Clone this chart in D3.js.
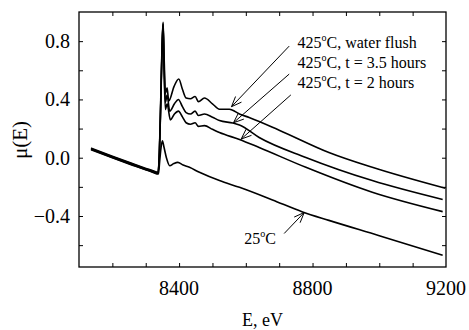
<!DOCTYPE html>
<html>
<head>
<meta charset="utf-8">
<script src="https://cdn.jsdelivr.net/npm/d3@7"></script>
<style>
  body { margin: 0; background: #fff; }
</style>
</head>
<body>
<svg id="chart"></svg>
<script>
// [E (eV), mu(E)]
const waterFlush = [
  [8136, 0.066], [8200, 0.010], [8260, -0.040], [8320, -0.088], [8337, -0.100],
  [8341, 0.05], [8345, 0.40], [8349, 0.78], [8352, 0.93], [8355, 0.70],
  [8359, 0.44], [8364, 0.48], [8369, 0.39], [8385, 0.49], [8399, 0.54],
  [8410, 0.47], [8421, 0.41], [8434, 0.405], [8448, 0.42], [8458, 0.385],
  [8476, 0.41], [8500, 0.37], [8521, 0.333], [8551, 0.333], [8581, 0.30],
  [8610, 0.276], [8700, 0.189], [8849, 0.036], [8979, -0.066], [9198, -0.21]
];
const hours35 = [
  [8136, 0.062], [8200, 0.006], [8260, -0.044], [8320, -0.092], [8337, -0.104],
  [8341, 0.04], [8345, 0.38], [8349, 0.76], [8352, 0.92], [8355, 0.64],
  [8359, 0.38], [8364, 0.43], [8372, 0.32], [8386, 0.37], [8398, 0.40],
  [8410, 0.35], [8421, 0.31], [8434, 0.30], [8448, 0.32], [8458, 0.29],
  [8476, 0.30], [8500, 0.278], [8521, 0.255], [8561, 0.238], [8581, 0.225],
  [8640, 0.139], [8780, 0.002], [8979, -0.157], [9190, -0.287]
];
const hours2 = [
  [8136, 0.058], [8200, 0.002], [8260, -0.048], [8320, -0.096], [8337, -0.108],
  [8341, 0.03], [8345, 0.36], [8349, 0.74], [8352, 0.91], [8355, 0.60],
  [8359, 0.33], [8364, 0.37], [8374, 0.26], [8386, 0.30], [8398, 0.32],
  [8410, 0.28], [8421, 0.24], [8434, 0.23], [8448, 0.24], [8458, 0.215],
  [8476, 0.22], [8500, 0.195], [8521, 0.173], [8581, 0.125], [8640, 0.07],
  [8780, -0.066], [8979, -0.237], [9190, -0.37]
];
const room25 = [
  [8136, 0.055], [8200, -0.001], [8260, -0.051], [8320, -0.099], [8338, -0.112],
  [8342, -0.02], [8346, 0.07], [8350, 0.116], [8355, 0.07], [8362, 0.0],
  [8372, -0.055], [8384, -0.04], [8396, -0.032], [8412, -0.05], [8431, -0.066],
  [8461, -0.10], [8521, -0.157], [8581, -0.203], [8680, -0.29], [8770, -0.372],
  [8849, -0.43], [9000, -0.535], [9190, -0.67]
];
const series = [waterFlush, hours35, hours2, room25];

const xTicks = [8400, 8800, 9200];
const yTicks = [-0.4, 0.0, 0.4, 0.8];

// annotations: label lines, arrow tail and tip in data units
const labels = [
  { text: "425", rest: ", water flush", E: 8755, mu: 0.755 },
  { text: "425", rest: ", t = 3.5 hours", E: 8755, mu: 0.617 },
  { text: "425", rest: ", t = 2 hours", E: 8755, mu: 0.48 },
  { text: "25", rest: "", E: 8595, mu: -0.59 }
];
const arrows = [
  { from: [8730, 0.766], to: [8557, 0.350] },
  { from: [8730, 0.574], to: [8563, 0.240] },
  { from: [8735, 0.431], to: [8586, 0.128] },
  { from: [8715, -0.520], to: [8775, -0.376] }
];

const serif = '"Liberation Serif", "Times New Roman", "DejaVu Serif", serif';
const width = 469, height = 330;
const margin = { top: 12, right: 23, bottom: 63, left: 79 };
const innerW = width - margin.left - margin.right;
const innerH = height - margin.top - margin.bottom;

const svg = d3.select("#chart").attr("width", width).attr("height", height);
const g = svg.append("g").attr("transform", `translate(${margin.left},${margin.top})`);

const x = d3.scaleLinear().domain([8100, 9200]).range([0, innerW]);
const y = d3.scaleLinear().domain([-0.75, 1.0]).range([innerH, 0]);

// inward ticks on all four sides
const minorX = d3.range(8200, 9200, 100);
const minorY = d3.range(-0.6, 1.0, 0.2);
const tick = 4;

g.append("g").attr("transform", `translate(0,${innerH})`)
  .call(d3.axisBottom(x).tickValues(minorX).tickSize(-tick).tickFormat(""));
g.append("g")
  .call(d3.axisTop(x).tickValues(minorX).tickSize(-tick).tickFormat(""));
g.append("g")
  .call(d3.axisLeft(y).tickValues(minorY).tickSize(-tick).tickFormat(""));
g.append("g").attr("transform", `translate(${innerW},0)`)
  .call(d3.axisRight(y).tickValues(minorY).tickSize(-tick).tickFormat(""));
g.selectAll(".domain").remove();
g.selectAll(".tick line").attr("stroke", "#000").attr("stroke-width", 1);

g.append("rect")
  .attr("width", innerW).attr("height", innerH)
  .attr("fill", "none").attr("stroke", "#000").attr("stroke-width", 1.3);

// tick labels
g.selectAll(".xlab").data(xTicks).join("text")
  .attr("x", d => x(d)).attr("y", innerH + 28)
  .attr("text-anchor", "middle")
  .attr("font-family", serif).attr("font-size", 20)
  .text(d => d);
g.selectAll(".ylab").data(yTicks).join("text")
  .attr("x", -9).attr("y", d => y(d) + 7)
  .attr("text-anchor", "end")
  .attr("font-family", serif).attr("font-size", 20)
  .text(d => d3.format(".1f")(d));

svg.append("text")
  .attr("x", margin.left + innerW / 2).attr("y", 326)
  .attr("text-anchor", "middle")
  .attr("font-family", serif).attr("font-size", 18)
  .text("E, eV");
svg.append("text")
  .attr("transform", "translate(27,140) rotate(-90)")
  .attr("text-anchor", "middle")
  .attr("font-family", serif).attr("font-size", 21)
  .text("μ(E)");

// curves
const line = d3.line().x(d => x(d[0])).y(d => y(d[1])).curve(d3.curveMonotoneX);
g.selectAll(".curve").data(series).join("path")
  .attr("d", line)
  .attr("fill", "none").attr("stroke", "#000")
  .attr("stroke-width", 1.6).attr("stroke-linejoin", "round");

// arrows with open heads
arrows.forEach(a => {
  const x0 = x(a.from[0]), y0 = y(a.from[1]);
  const x1 = x(a.to[0]), y1 = y(a.to[1]);
  const ang = Math.atan2(y1 - y0, x1 - x0);
  const len = 11, spread = 0.38;
  const p = d3.path();
  p.moveTo(x0, y0); p.lineTo(x1, y1);
  p.moveTo(x1 - len * Math.cos(ang - spread), y1 - len * Math.sin(ang - spread));
  p.lineTo(x1, y1);
  p.lineTo(x1 - len * Math.cos(ang + spread), y1 - len * Math.sin(ang + spread));
  g.append("path").attr("d", p.toString())
    .attr("fill", "none").attr("stroke", "#000").attr("stroke-width", 1);
});

// labels with degree superscript
labels.forEach(l => {
  const t = g.append("text")
    .attr("x", x(l.E)).attr("y", y(l.mu))
    .attr("font-family", serif).attr("font-size", 16);
  t.append("tspan").text(l.text);
  t.append("tspan").attr("dy", -7).attr("font-size", 10).text("o");
  t.append("tspan").attr("dy", 7).text("C" + l.rest);
});
</script>
</body>
</html>
